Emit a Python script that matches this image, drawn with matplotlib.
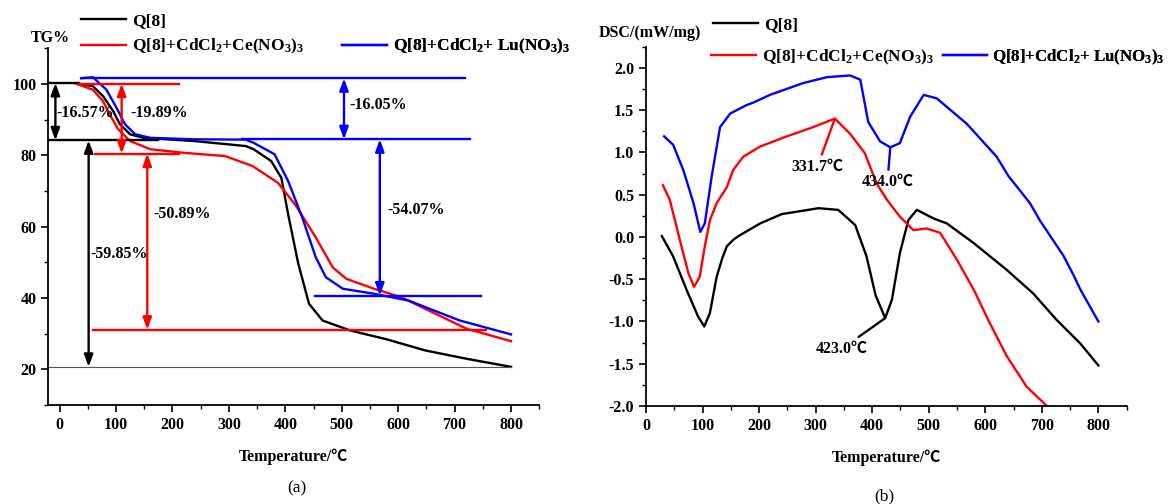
import matplotlib
matplotlib.use('Agg')
import matplotlib.pyplot as plt
from matplotlib.ticker import MultipleLocator

# ---------------- TG data (temperature / mass %) ----------------
tg_q8_t = [32, 59, 77, 95, 107, 125, 149, 239, 330, 344, 375, 393, 405, 423, 442, 466, 515, 580, 648, 720, 800]
tg_q8_w = [100.1, 99.4, 96.6, 92.4, 88.7, 85.9, 84.9, 84.0, 82.6, 81.7, 78.4, 73.7, 63.5, 49.6, 38.4, 33.7, 30.9, 28.4, 25.3, 23.0, 20.7]

tg_ce_t = [29, 59, 77, 89, 104, 125, 161, 221, 293, 342, 387, 417, 454, 484, 508, 557, 606, 666, 721, 800]
tg_ce_w = [100.1, 98.4, 95.2, 91.4, 87.3, 84.0, 81.7, 80.7, 79.8, 77.0, 72.3, 66.3, 57.0, 48.6, 45.4, 42.6, 40.2, 35.6, 31.4, 27.9]

tg_lu_t = [38, 59, 83, 101, 116, 134, 161, 239, 330, 344, 381, 405, 430, 454, 472, 502, 557, 618, 709, 800]
tg_lu_w = [101.6, 101.9, 98.4, 93.3, 88.7, 85.9, 84.9, 84.5, 84.4, 83.5, 80.3, 72.8, 62.6, 51.4, 45.8, 42.6, 41.2, 39.3, 33.7, 29.8]

# guide lines on the TG plot: level, start, end, colour
hl_y = [101.6, 84.5, 100.3, 84.2, 100.1, 80.5, 31.1, 40.7]
hl_x0 = [41.5, 323, -20, -20, 35, 62, 60, 452]
hl_x1 = [718, 728, 35, 175, 212, 212, 755, 747]
hl_c = ['b', 'b', 'k', 'k', 'r', 'r', 'r', 'b']
base_y = 20.7

# mass-loss arrows and their labels
ar_x = [-7.4, 51.5, 110, 155.4, 504, 567.5]
ar_y0 = [100.3, 84.2, 100.1, 80.5, 101.6, 84.5]
ar_y1 = [84.2, 20.7, 80.5, 31.1, 84.5, 40.7]
ar_c = ['k', 'k', 'r', 'r', 'b', 'b']
ar_lab = ['-16.57%', '-59.85%', '-19.89%', '-50.89%', '-16.05%', '-54.07%']
lab_x = [-6, 55, 125, 165.5, 514, 581]
lab_y = [91.9, 52.3, 91.9, 63.5, 94.0, 64.6]

# ---------------- DSC data (temperature / mW per mg) ----------------
dsc_q8_t = [28, 48, 72, 92, 103, 113, 125, 135, 143, 155, 166, 202, 240, 305, 340, 370, 390, 406, 423, 435, 449, 464, 479,
            508, 532, 579, 638, 685, 726, 768, 800]
dsc_q8_h = [0.01, -0.23, -0.63, -0.94, -1.06, -0.90, -0.47, -0.25, -0.11, -0.03, 0.02, 0.16, 0.27, 0.34, 0.32, 0.14, -0.23, -0.69,
            -0.96, -0.74, -0.19, 0.20, 0.32, 0.22, 0.16, -0.07, -0.39, -0.67, -0.98, -1.26, -1.52]

dsc_ce_t = [30, 42, 60, 75, 85, 95, 104, 113, 125, 143, 154, 172, 202, 249, 296, 334, 361, 387, 408, 426, 449,
            473, 496, 520, 550, 580, 608, 638, 673, 709]
dsc_ce_h = [0.61, 0.44, -0.04, -0.43, -0.59, -0.47, -0.11, 0.20, 0.40, 0.59, 0.79, 0.95, 1.07, 1.19, 1.30, 1.40,
            1.22, 0.99, 0.63, 0.44, 0.24, 0.08, 0.10, 0.05, -0.27, -0.63, -1.02, -1.41, -1.77, -2.0]

dsc_lu_t = [32, 48, 66, 84, 96, 104, 116, 131, 149, 178, 190, 219, 278, 320, 361, 379, 393, 414, 432, 449, 467,
            491, 514, 567, 620, 641, 679, 697, 738, 756, 768, 800]
dsc_lu_h = [1.19, 1.09, 0.79, 0.40, 0.06, 0.16, 0.71, 1.30, 1.46, 1.56, 1.59, 1.68, 1.82, 1.89, 1.91, 1.86, 1.36,
            1.13, 1.06, 1.11, 1.42, 1.68, 1.64, 1.34, 0.95, 0.72, 0.40, 0.19, -0.22, -0.45, -0.62, -1.00]

# peak labels: text, peak point, text centre
pk_lab = ['331.7\u2103', '434.0\u2103', '423.0\u2103']
pk_x = [334, 432, 423]
pk_y = [1.40, 1.06, -0.96]
pk_tx = [303, 427, 347]
pk_ty = [0.83, 0.65, -1.32]
pk_c = ['r', 'b', 'k']

lab_q8 = 'Q[8]'
lab_ce = r'Q[8]+CdCl$_2$+Ce(NO$_3$)$_3$'
lab_lu = r'Q[8]+CdCl$_2$+ Lu(NO$_3$)$_3$'

plt.rcParams['font.family'] = ['Liberation Serif', 'Noto Sans CJK SC', 'DejaVu Sans']
plt.rcParams['font.weight'] = 'bold'
plt.rcParams['mathtext.fontset'] = 'custom'
plt.rcParams['mathtext.rm'] = 'Liberation Serif:bold'
plt.rcParams['mathtext.it'] = 'Liberation Serif:bold'
plt.rcParams['mathtext.bf'] = 'Liberation Serif:bold'
plt.rcParams['axes.linewidth'] = 1.3
plt.rcParams['axes.unicode_minus'] = False
plt.rcParams['lines.solid_joinstyle'] = 'round'

W, H = 1172, 504
fig = plt.figure(figsize=(W / 100, H / 100), dpi=100)
ax1 = fig.add_axes([0.0412, 0.1964, 0.4189, 0.7077])
ax2 = fig.add_axes([0.5512, 0.1944, 0.4101, 0.7129])

LW = 1.7


def style(ax):
    for s in ['top', 'right']:
        ax.spines[s].set_visible(False)
    ax.tick_params(which='major', direction='out', length=5, width=1.2, labelsize=11.5)
    ax.tick_params(which='minor', direction='out', length=3, width=1.0)
    for lbl in ax.get_xticklabels() + ax.get_yticklabels():
        lbl.set_fontweight('bold')
    ax.set_xlabel('Temperature/\u2103', fontsize=11.5, fontweight='bold', labelpad=11)


def put_legend(ax, line, label, px, py, size=12.5):
    leg = ax.legend([line], [label], loc='center left', bbox_to_anchor=(px / W, 1 - py / H),
                    bbox_transform=fig.transFigure, frameon=False, borderpad=0, borderaxespad=0,
                    handlelength=2.6, handletextpad=0.35, fontsize=size)
    ax.add_artist(leg)


################
#      TG      #
################
l1, = ax1.plot(tg_q8_t, tg_q8_w, color='k', lw=LW)
l2, = ax1.plot(tg_ce_t, tg_ce_w, color='r', lw=LW)
l3, = ax1.plot(tg_lu_t, tg_lu_w, color='b', lw=LW)
ax1.plot([-20, 800], [base_y, base_y], color='#555555', lw=0.8)
for y, x0, x1, c in zip(hl_y, hl_x0, hl_x1, hl_c):
    ax1.plot([x0, x1], [y, y], color=c, lw=LW)
for x, y0, y1, c in zip(ar_x, ar_y0, ar_y1, ar_c):
    ax1.annotate('', xy=(x, y1), xytext=(x, y0),
                 arrowprops=dict(arrowstyle='<|-|>,head_length=0.6,head_width=0.22', color=c, lw=LW,
                                 shrinkA=0, shrinkB=0, mutation_scale=12))
for t, x, y in zip(ar_lab, lab_x, lab_y):
    ax1.text(x, y, t, fontsize=11.5, fontweight='bold', ha='left', va='center')

ax1.set_xlim(-20, 850)
ax1.set_ylim(10, 110)
ax1.xaxis.set_major_locator(MultipleLocator(100))
ax1.xaxis.set_minor_locator(MultipleLocator(50))
ax1.set_yticks([20, 40, 60, 80, 100])
ax1.yaxis.set_minor_locator(MultipleLocator(10))
style(ax1)
fig.text(50.5 / W, 1 - 37.5 / H, 'TG%', fontsize=11.5, fontweight='bold', ha='center', va='center')
put_legend(ax1, l1, lab_q8, 81, 20.7)
put_legend(ax1, l2, lab_ce, 81, 46.7)
put_legend(ax1, l3, lab_lu, 342, 46.7)
fig.text(296.6 / W, 1 - 488 / H, '(a)', fontsize=12.5, fontweight='normal', ha='center', va='center')

################
#      DSC     #
################
m1, = ax2.plot(dsc_q8_t, dsc_q8_h, color='k', lw=LW)
m2, = ax2.plot(dsc_ce_t, dsc_ce_h, color='r', lw=LW)
m3, = ax2.plot(dsc_lu_t, dsc_lu_h, color='b', lw=LW)
for t, x, y, tx, ty, c in zip(pk_lab, pk_x, pk_y, pk_tx, pk_ty, pk_c):
    ax2.annotate(t, xy=(x, y), xytext=(tx, ty), fontsize=11.5, fontweight='bold', ha='center', va='center',
                 arrowprops=dict(arrowstyle='-', color=c, lw=LW, shrinkA=1, shrinkB=0))

ax2.set_xlim(0, 850)
ax2.set_ylim(-2.0, 2.25)
ax2.xaxis.set_major_locator(MultipleLocator(100))
ax2.xaxis.set_minor_locator(MultipleLocator(50))
ax2.set_yticks([-2.0, -1.5, -1.0, -0.5, 0.0, 0.5, 1.0, 1.5, 2.0])
ax2.yaxis.set_minor_locator(MultipleLocator(0.25))
style(ax2)
fig.text(650 / W, 1 - 32.7 / H, 'DSC/(mW/mg)', fontsize=11.5, fontweight='bold', ha='center', va='center')
put_legend(ax2, m1, lab_q8, 713, 24.7)
put_legend(ax2, m2, lab_ce, 711, 57)
put_legend(ax2, m3, lab_lu, 942.5, 57, size=12.2)
fig.text(884 / W, 1 - 496.7 / H, '(b)', fontsize=12.5, fontweight='normal', ha='center', va='center')

plt.savefig('out.png', dpi=100)
